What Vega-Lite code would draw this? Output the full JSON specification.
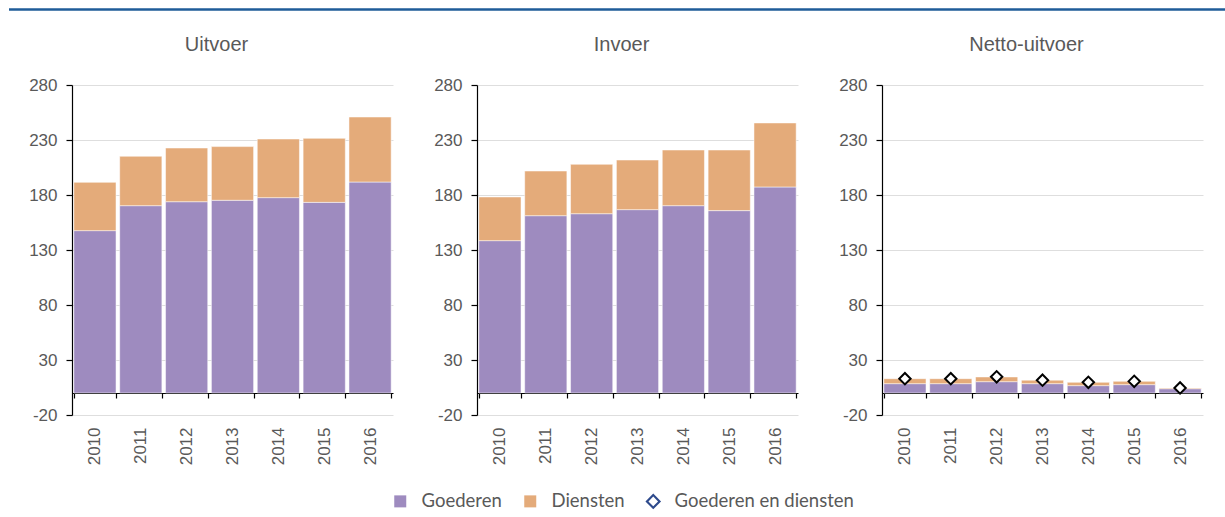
{
  "$schema": "https://vega.github.io/schema/vega-lite/v6.json",
  "padding": {"left": 7, "top": 8, "right": 0, "bottom": 0},
  "background": "#ffffff",
  "datasets": {
    "balken": [
      {"paneel": "Uitvoer", "jaar": "2010", "serie": "Goederen", "waarde": 147.6},
      {"paneel": "Uitvoer", "jaar": "2010", "serie": "Diensten", "waarde": 43.9},
      {"paneel": "Uitvoer", "jaar": "2011", "serie": "Goederen", "waarde": 170.3},
      {"paneel": "Uitvoer", "jaar": "2011", "serie": "Diensten", "waarde": 44.9},
      {"paneel": "Uitvoer", "jaar": "2012", "serie": "Goederen", "waarde": 173.9},
      {"paneel": "Uitvoer", "jaar": "2012", "serie": "Diensten", "waarde": 48.8},
      {"paneel": "Uitvoer", "jaar": "2013", "serie": "Goederen", "waarde": 175.2},
      {"paneel": "Uitvoer", "jaar": "2013", "serie": "Diensten", "waarde": 48.8},
      {"paneel": "Uitvoer", "jaar": "2014", "serie": "Goederen", "waarde": 177.6},
      {"paneel": "Uitvoer", "jaar": "2014", "serie": "Diensten", "waarde": 53.3},
      {"paneel": "Uitvoer", "jaar": "2015", "serie": "Goederen", "waarde": 173.3},
      {"paneel": "Uitvoer", "jaar": "2015", "serie": "Diensten", "waarde": 58.2},
      {"paneel": "Uitvoer", "jaar": "2016", "serie": "Goederen", "waarde": 191.8},
      {"paneel": "Uitvoer", "jaar": "2016", "serie": "Diensten", "waarde": 59.1},
      {"paneel": "Invoer", "jaar": "2010", "serie": "Goederen", "waarde": 138.5},
      {"paneel": "Invoer", "jaar": "2010", "serie": "Diensten", "waarde": 39.7},
      {"paneel": "Invoer", "jaar": "2011", "serie": "Goederen", "waarde": 161.2},
      {"paneel": "Invoer", "jaar": "2011", "serie": "Diensten", "waarde": 40.6},
      {"paneel": "Invoer", "jaar": "2012", "serie": "Goederen", "waarde": 163.0},
      {"paneel": "Invoer", "jaar": "2012", "serie": "Diensten", "waarde": 44.9},
      {"paneel": "Invoer", "jaar": "2013", "serie": "Goederen", "waarde": 166.7},
      {"paneel": "Invoer", "jaar": "2013", "serie": "Diensten", "waarde": 45.1},
      {"paneel": "Invoer", "jaar": "2014", "serie": "Goederen", "waarde": 170.3},
      {"paneel": "Invoer", "jaar": "2014", "serie": "Diensten", "waarde": 50.6},
      {"paneel": "Invoer", "jaar": "2015", "serie": "Goederen", "waarde": 165.8},
      {"paneel": "Invoer", "jaar": "2015", "serie": "Diensten", "waarde": 55.1},
      {"paneel": "Invoer", "jaar": "2016", "serie": "Goederen", "waarde": 187.3},
      {"paneel": "Invoer", "jaar": "2016", "serie": "Diensten", "waarde": 58.2},
      {"paneel": "Netto-uitvoer", "jaar": "2010", "serie": "Goederen", "waarde": 8.5},
      {"paneel": "Netto-uitvoer", "jaar": "2010", "serie": "Diensten", "waarde": 4.5},
      {"paneel": "Netto-uitvoer", "jaar": "2011", "serie": "Goederen", "waarde": 8.5},
      {"paneel": "Netto-uitvoer", "jaar": "2011", "serie": "Diensten", "waarde": 4.5},
      {"paneel": "Netto-uitvoer", "jaar": "2012", "serie": "Goederen", "waarde": 10.3},
      {"paneel": "Netto-uitvoer", "jaar": "2012", "serie": "Diensten", "waarde": 4.3},
      {"paneel": "Netto-uitvoer", "jaar": "2013", "serie": "Goederen", "waarde": 8.5},
      {"paneel": "Netto-uitvoer", "jaar": "2013", "serie": "Diensten", "waarde": 3.2},
      {"paneel": "Netto-uitvoer", "jaar": "2014", "serie": "Goederen", "waarde": 6.7},
      {"paneel": "Netto-uitvoer", "jaar": "2014", "serie": "Diensten", "waarde": 3.0},
      {"paneel": "Netto-uitvoer", "jaar": "2015", "serie": "Goederen", "waarde": 7.6},
      {"paneel": "Netto-uitvoer", "jaar": "2015", "serie": "Diensten", "waarde": 3.0},
      {"paneel": "Netto-uitvoer", "jaar": "2016", "serie": "Goederen", "waarde": 3.9},
      {"paneel": "Netto-uitvoer", "jaar": "2016", "serie": "Diensten", "waarde": 0.7}
    ],
    "totaal": [
      {"jaar": "2010", "serie": "Goederen en diensten", "totaal": 13.0},
      {"jaar": "2011", "serie": "Goederen en diensten", "totaal": 13.0},
      {"jaar": "2012", "serie": "Goederen en diensten", "totaal": 14.7},
      {"jaar": "2013", "serie": "Goederen en diensten", "totaal": 11.6},
      {"jaar": "2014", "serie": "Goederen en diensten", "totaal": 9.7},
      {"jaar": "2015", "serie": "Goederen en diensten", "totaal": 10.6},
      {"jaar": "2016", "serie": "Goederen en diensten", "totaal": 4.6}
    ],
    "lijn": [{"van": 0, "tot": 1}]
  },
  "vconcat": [
    {
      "width": 1160,
      "height": 1,
      "data": {"name": "lijn"},
      "mark": {"type": "rule", "color": "#1f5c99", "strokeWidth": 2.5, "xOffset": -63},
      "encoding": {
        "x": {"field": "van", "type": "quantitative", "axis": null, "scale": {"domain": [0, 1], "nice": false}},
        "x2": {"field": "tot"}
      }
    },
    {
      "hconcat": [
        {
          "title": {"text": "Uitvoer"},
          "width": 321,
          "height": 330,
          "layer": [
            {
              "data": {"name": "balken"},
              "transform": [{"filter": "datum.paneel === 'Uitvoer'"}],
              "mark": {"type": "bar", "stroke": "#ffffff", "strokeWidth": 1, "strokeOpacity": 0.5},
              "encoding": {
                "x": {"field": "jaar", "type": "ordinal", "scale": {"paddingInner": 0.08, "paddingOuter": 0.04}, "axis": {"orient": "bottom", "offset": -22, "labelAngle": -90, "labelAlign": "right", "labelBaseline": "middle", "labelPadding": 29, "tickBand": "extent", "tickSize": 5, "grid": false}},
                "y": {"field": "waarde", "type": "quantitative", "stack": "zero", "scale": {"domain": [-20, 280], "nice": false, "zero": false}, "axis": {"values": [-20, 30, 80, 130, 180, 230, 280], "labelExpr": "'' + datum.value", "tickSize": 6, "labelPadding": 9}},
                "color": {"field": "serie", "type": "nominal", "scale": {"domain": ["Goederen", "Diensten", "Goederen en diensten"], "range": ["#9e8bbf", "#e4ab7a", "#2e4a8c"]},
                  "legend": {"title": null, "orient": "none", "legendX": 319, "legendY": 483, "direction": "horizontal", "symbolSize": 144, "symbolStrokeWidth": 0, "labelFont": "Lato", "labelFontSize": 18.5, "labelColor": "#595959", "labelOffset": 12, "labelLimit": 400, "columnPadding": 19, "padding": 0}},
                "order": {"field": "serie", "sort": "descending"}
              }
            }
          ]
        },
        {
          "title": {"text": "Invoer"},
          "width": 321,
          "height": 330,
          "layer": [
            {
              "data": {"name": "balken"},
              "transform": [{"filter": "datum.paneel === 'Invoer'"}],
              "mark": {"type": "bar", "stroke": "#ffffff", "strokeWidth": 1, "strokeOpacity": 0.5},
              "encoding": {
                "x": {"field": "jaar", "type": "ordinal", "scale": {"paddingInner": 0.08, "paddingOuter": 0.04}, "axis": {"orient": "bottom", "offset": -22, "labelAngle": -90, "labelAlign": "right", "labelBaseline": "middle", "labelPadding": 29, "tickBand": "extent", "tickSize": 5, "grid": false}},
                "y": {"field": "waarde", "type": "quantitative", "stack": "zero", "scale": {"domain": [-20, 280], "nice": false, "zero": false}, "axis": {"values": [-20, 30, 80, 130, 180, 230, 280], "labelExpr": "'' + datum.value", "tickSize": 6, "labelPadding": 9}},
                "color": {"field": "serie", "type": "nominal", "scale": {"domain": ["Goederen", "Diensten", "Goederen en diensten"], "range": ["#9e8bbf", "#e4ab7a", "#2e4a8c"]},
                  "legend": {"title": null, "orient": "none", "legendX": 319, "legendY": 483, "direction": "horizontal", "symbolSize": 144, "symbolStrokeWidth": 0, "labelFont": "Lato", "labelFontSize": 18.5, "labelColor": "#595959", "labelOffset": 12, "labelLimit": 400, "columnPadding": 19, "padding": 0}},
                "order": {"field": "serie", "sort": "descending"}
              }
            }
          ]
        },
        {
          "title": {"text": "Netto-uitvoer"},
          "width": 321,
          "height": 330,
          "layer": [
            {
              "data": {"name": "balken"},
              "transform": [{"filter": "datum.paneel === 'Netto-uitvoer'"}],
              "mark": {"type": "bar", "stroke": "#ffffff", "strokeWidth": 1, "strokeOpacity": 0.5},
              "encoding": {
                "x": {"field": "jaar", "type": "ordinal", "scale": {"paddingInner": 0.08, "paddingOuter": 0.04}, "axis": {"orient": "bottom", "offset": -22, "labelAngle": -90, "labelAlign": "right", "labelBaseline": "middle", "labelPadding": 29, "tickBand": "extent", "tickSize": 5, "grid": false}},
                "y": {"field": "waarde", "type": "quantitative", "stack": "zero", "scale": {"domain": [-20, 280], "nice": false, "zero": false}, "axis": {"values": [-20, 30, 80, 130, 180, 230, 280], "labelExpr": "'' + datum.value", "tickSize": 6, "labelPadding": 9}},
                "color": {"field": "serie", "type": "nominal", "scale": {"domain": ["Goederen", "Diensten", "Goederen en diensten"], "range": ["#9e8bbf", "#e4ab7a", "#2e4a8c"]},
                  "legend": {"title": null, "orient": "none", "legendX": 319, "legendY": 483, "direction": "horizontal", "symbolSize": 144, "symbolStrokeWidth": 0, "labelFont": "Lato", "labelFontSize": 18.5, "labelColor": "#595959", "labelOffset": 12, "labelLimit": 400, "columnPadding": 19, "padding": 0}},
                "order": {"field": "serie", "sort": "descending"}
              }
            },
            {
              "data": {"name": "totaal"},
              "transform": [{"filter": "false"}],
              "mark": {"type": "point", "filled": true, "strokeWidth": 0, "opacity": 1},
              "encoding": {
                "x": {"field": "jaar", "type": "ordinal"},
                "y": {"field": "totaal", "type": "quantitative"},
                "color": {"field": "serie", "type": "nominal", "scale": {"domain": ["Goederen", "Diensten", "Goederen en diensten"], "range": ["#9e8bbf", "#e4ab7a", "#2e4a8c"]},
                  "legend": {"title": null, "orient": "none", "legendX": 319, "legendY": 483, "direction": "horizontal", "symbolSize": 144, "symbolStrokeWidth": 0, "labelFont": "Lato", "labelFontSize": 18.5, "labelColor": "#595959", "labelOffset": 12, "labelLimit": 400, "columnPadding": 19, "padding": 0}},
                "shape": {"field": "serie", "type": "nominal", "scale": {"domain": ["Goederen", "Diensten", "Goederen en diensten"], "range": ["square", "square", "M0,-1.3L1.3,0L0,1.3L-1.3,0Z M0,-0.8L-0.8,0L0,0.8L0.8,0Z"]},
                  "legend": {"title": null, "orient": "none", "legendX": 319, "legendY": 483, "direction": "horizontal", "symbolSize": 144, "symbolStrokeWidth": 0, "labelFont": "Lato", "labelFontSize": 18.5, "labelColor": "#595959", "labelOffset": 12, "labelLimit": 400, "columnPadding": 19, "padding": 0}}
              }
            },
            {
              "data": {"name": "totaal"},
              "mark": {"type": "point", "shape": "diamond", "filled": true, "fill": "#ffffff", "stroke": "#000000", "strokeWidth": 2, "size": 130, "opacity": 1},
              "encoding": {
                "x": {"field": "jaar", "type": "ordinal"},
                "y": {"field": "totaal", "type": "quantitative"}
              }
            }
          ]
        }
      ],
      "spacing": 40
    }
  ],
  "spacing": 24,
  "align": "none",
  "resolve": {"scale": {"color": "shared", "shape": "shared"}},
  "config": {
    "view": {"stroke": null},
    "title": {"font": "Arial", "fontSize": 20, "fontWeight": "normal", "color": "#595959", "anchor": "middle", "frame": "group", "dx": -16, "offset": 21},
    "axis": {"title": null, "labelFont": "Arial", "labelFontSize": 17, "labelColor": "#595959", "domainColor": "#000000", "tickColor": "#000000", "gridColor": "#dedede", "domainWidth": 1.2, "tickWidth": 1.2}
  }
}
